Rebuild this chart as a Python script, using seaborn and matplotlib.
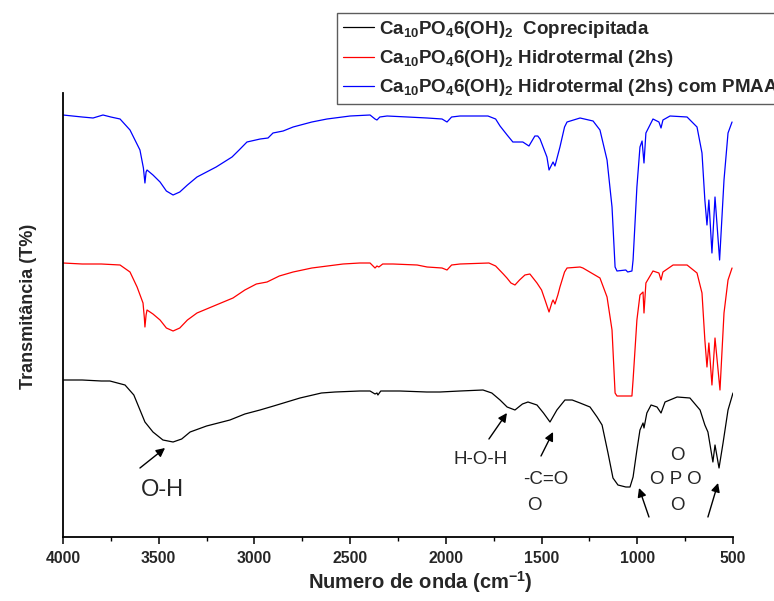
import matplotlib
matplotlib.use("Agg")
import matplotlib.pyplot as plt
from matplotlib.ticker import MultipleLocator
import seaborn as sns
import pandas as pd

# FTIR spectra (wavenumber in cm^-1, transmittance with vertical offsets, a.u.)
wn_cop = [4000, 3900, 3800, 3755, 3676, 3630, 3572, 3530, 3478, 3425, 3380, 3336, 3250, 3128,
          3050, 2971, 2900, 2762, 2650, 2579, 2450, 2396, 2370, 2360, 2355, 2340, 2240, 2100,
          2031, 1926, 1806, 1760, 1717, 1680, 1639, 1600, 1571, 1524, 1490, 1456, 1420, 1378,
          1340, 1299, 1247, 1210, 1184, 1153, 1127, 1101, 1060, 1038, 1022, 1002, 986, 970,
          965, 950, 928, 897, 876, 855, 792, 725, 672, 647, 631, 605, 594, 573, 552, 526, 500]
t_cop = [157, 157, 156, 156, 152, 142, 115, 105, 97, 95, 98, 105, 111, 117,
         123, 127, 131, 139, 144, 145, 146, 146, 143, 144, 142, 146, 146, 145,
         145, 146, 147, 144, 137, 130, 127, 133, 135, 132, 124, 115, 127, 137,
         137, 134, 130, 120, 112, 84, 59, 52, 50, 50, 60, 87, 107, 114,
         109, 124, 132, 130, 124, 135, 140, 139, 127, 112, 105, 75, 92, 69, 94, 127, 144]

wn_hid = [4000, 3900, 3800, 3702, 3650, 3613, 3582, 3575, 3572, 3566, 3561, 3530, 3493, 3460,
          3425, 3390, 3350, 3300, 3200, 3112, 3050, 2990, 2934, 2870, 2798, 2700, 2537, 2450,
          2396, 2370, 2360, 2350, 2330, 2276, 2150, 2098, 2020, 1994, 1970, 1926, 1775, 1740,
          1700, 1681, 1660, 1639, 1615, 1587, 1561, 1524, 1500, 1482, 1461, 1445, 1440, 1430,
          1415, 1404, 1380, 1367, 1299, 1284, 1195, 1158, 1132, 1116, 1106, 1028, 1022, 1002,
          986, 970, 965, 955, 918, 887, 876, 866, 813, 740, 688, 662, 647, 636, 626, 610,
          594, 568, 547, 526, 505]
t_hid = [274, 273, 273, 272, 265, 250, 234, 219, 210, 222, 227, 223, 217, 209,
         206, 209, 217, 224, 232, 239, 247, 253, 255, 261, 265, 269, 273, 274,
         274, 269, 271, 270, 273, 273, 272, 270, 269, 267, 272, 273, 274, 271,
         263, 259, 254, 252, 257, 262, 263, 254, 247, 237, 225, 235, 237, 233,
         242, 250, 265, 269, 270, 269, 259, 240, 207, 144, 141, 141, 157, 217,
         242, 245, 224, 254, 266, 264, 257, 265, 272, 272, 264, 244, 197, 170, 194, 152,
         199, 147, 224, 257, 269]

wn_pmaa = [4000, 3900, 3843, 3791, 3750, 3702, 3650, 3598, 3580, 3572, 3566, 3561, 3530, 3493,
           3460, 3425, 3390, 3350, 3300, 3200, 3117, 3080, 3039, 2970, 2929, 2903, 2850, 2798,
           2700, 2621, 2500, 2396, 2370, 2360, 2345, 2307, 2200, 2098, 2020, 1994, 1970, 1926,
           1780, 1740, 1717, 1680, 1650, 1598, 1566, 1535, 1520, 1508, 1472, 1461, 1440, 1430,
           1404, 1380, 1367, 1299, 1231, 1195, 1158, 1132, 1116, 1106, 1060, 1050, 1028, 1022,
           1002, 986, 975, 965, 955, 918, 887, 876, 866, 829, 740, 688, 662, 647, 636, 626,
           610, 594, 570, 547, 526, 505]
t_pmaa = [422, 420, 419, 422, 420, 418, 407, 387, 369, 354, 365, 367, 362, 355,
          346, 342, 345, 352, 360, 370, 380, 387, 395, 398, 399, 404, 406, 410,
          415, 418, 421, 422, 418, 417, 420, 421, 420, 419, 418, 415, 420, 421,
          421, 418, 411, 402, 395, 395, 391, 401, 401, 398, 380, 367, 375, 371,
          390, 410, 415, 419, 416, 407, 377, 330, 270, 266, 267, 265, 266, 277,
          350, 390, 396, 374, 404, 418, 415, 409, 417, 421, 420, 410, 384, 337, 312, 337,
          284, 340, 277, 357, 404, 415]

series_labels = [
    r"Ca$_{10}$PO$_{4}$6(OH)$_{2}$  Coprecipitada",
    r"Ca$_{10}$PO$_{4}$6(OH)$_{2}$ Hidrotermal (2hs)",
    r"Ca$_{10}$PO$_{4}$6(OH)$_{2}$ Hidrotermal (2hs) com PMAA",
]
series_colors = ["black", "#ff0000", "#0000ff"]
x_ticks = [4000, 3500, 3000, 2500, 2000, 1500, 1000, 500]

frames = []
for lab, wn, t in zip(series_labels, [wn_cop, wn_hid, wn_pmaa], [t_cop, t_hid, t_pmaa]):
    frames.append(pd.DataFrame({"wn": wn, "T": t, "amostra": lab}))
df = pd.concat(frames, ignore_index=True)

sns.set_style("white")
plt.rcParams["font.family"] = ["Liberation Sans", "DejaVu Sans"]
plt.rcParams["mathtext.fontset"] = "custom"
plt.rcParams["mathtext.rm"] = "Liberation Sans:bold"
plt.rcParams["mathtext.it"] = "Liberation Sans:bold"
plt.rcParams["mathtext.bf"] = "Liberation Sans:bold"

fig = plt.figure(figsize=(7.74, 6.01), dpi=100)
ax = fig.add_axes([63 / 774, 64 / 601, 670 / 774, 444 / 601])

sns.lineplot(data=df, x="wn", y="T", hue="amostra", palette=series_colors,
             hue_order=series_labels, estimator=None, sort=False, linewidth=0.9, ax=ax)

ax.set_xlim(4000, 500)
ax.set_ylim(0, 444)
ax.set_xticks(x_ticks)
ax.xaxis.set_minor_locator(MultipleLocator(250))
ax.set_yticks([])
for s in ["top", "right"]:
    ax.spines[s].set_visible(False)
for s in ["left", "bottom"]:
    ax.spines[s].set_color("black")
    ax.spines[s].set_linewidth(1.3)
ax.tick_params(axis="x", which="major", direction="out", length=5, width=1.1,
               bottom=True, color="black", pad=5)
ax.tick_params(axis="x", which="minor", direction="out", length=3, width=1.0,
               bottom=True, color="black")

for lbl in ax.get_xticklabels():
    lbl.set_fontweight("bold")
    lbl.set_fontsize(11.3)

ax.set_xlabel(r"Numero de onda (cm$^{\mathbf{-1}}$)", fontsize=14.5, fontweight="bold")
ax.xaxis.set_label_coords(0.534, -0.072)
ax.set_ylabel("Transmitância (T%)", fontsize=13, fontweight="bold")
ax.yaxis.set_label_coords(-0.039, 0.52)

# band assignments
arrow = dict(arrowstyle="-|>", color="black", lw=1.0, mutation_scale=13, shrinkA=0, shrinkB=0)
ax.annotate("", xy=(3467, 89), xytext=(3598, 69), arrowprops=arrow)
ax.text(3478, 47, "O-H", fontsize=17, ha="center", va="center")

ax.annotate("", xy=(1681, 124), xytext=(1775, 98), arrowprops=arrow)
ax.text(1816, 77, "H-O-H", fontsize=13.5, ha="center", va="center")

ax.annotate("", xy=(1440, 105), xytext=(1503, 81), arrowprops=arrow)
ax.text(1477, 57, "-C=O", fontsize=13.5, ha="center", va="center")
ax.text(1540, 32, "O", fontsize=13.5, ha="center", va="center")

ax.annotate("", xy=(991, 49), xytext=(939, 20), arrowprops=arrow)
ax.annotate("", xy=(578, 54), xytext=(631, 20), arrowprops=arrow)
ax.text(793, 82, "O", fontsize=13.5, ha="center", va="center")
ax.text(798, 58, "O P O", fontsize=13.5, ha="center", va="center")
ax.text(793, 32, "O", fontsize=13.5, ha="center", va="center")

leg = ax.legend(loc="upper left", bbox_to_anchor=(337 / 774, 1 - 13 / 601),
                bbox_transform=fig.transFigure, frameon=True, fancybox=False,
                prop={"weight": "bold", "size": 13.5}, handlelength=1.65,
                handletextpad=0.3, labelspacing=0.45, borderpad=0.3,
                borderaxespad=0)
leg.get_frame().set_edgecolor("#333333")
leg.get_frame().set_linewidth(1.0)
for h in leg.get_lines():
    h.set_linewidth(0.9)

fig.savefig("out.png", dpi=100)
